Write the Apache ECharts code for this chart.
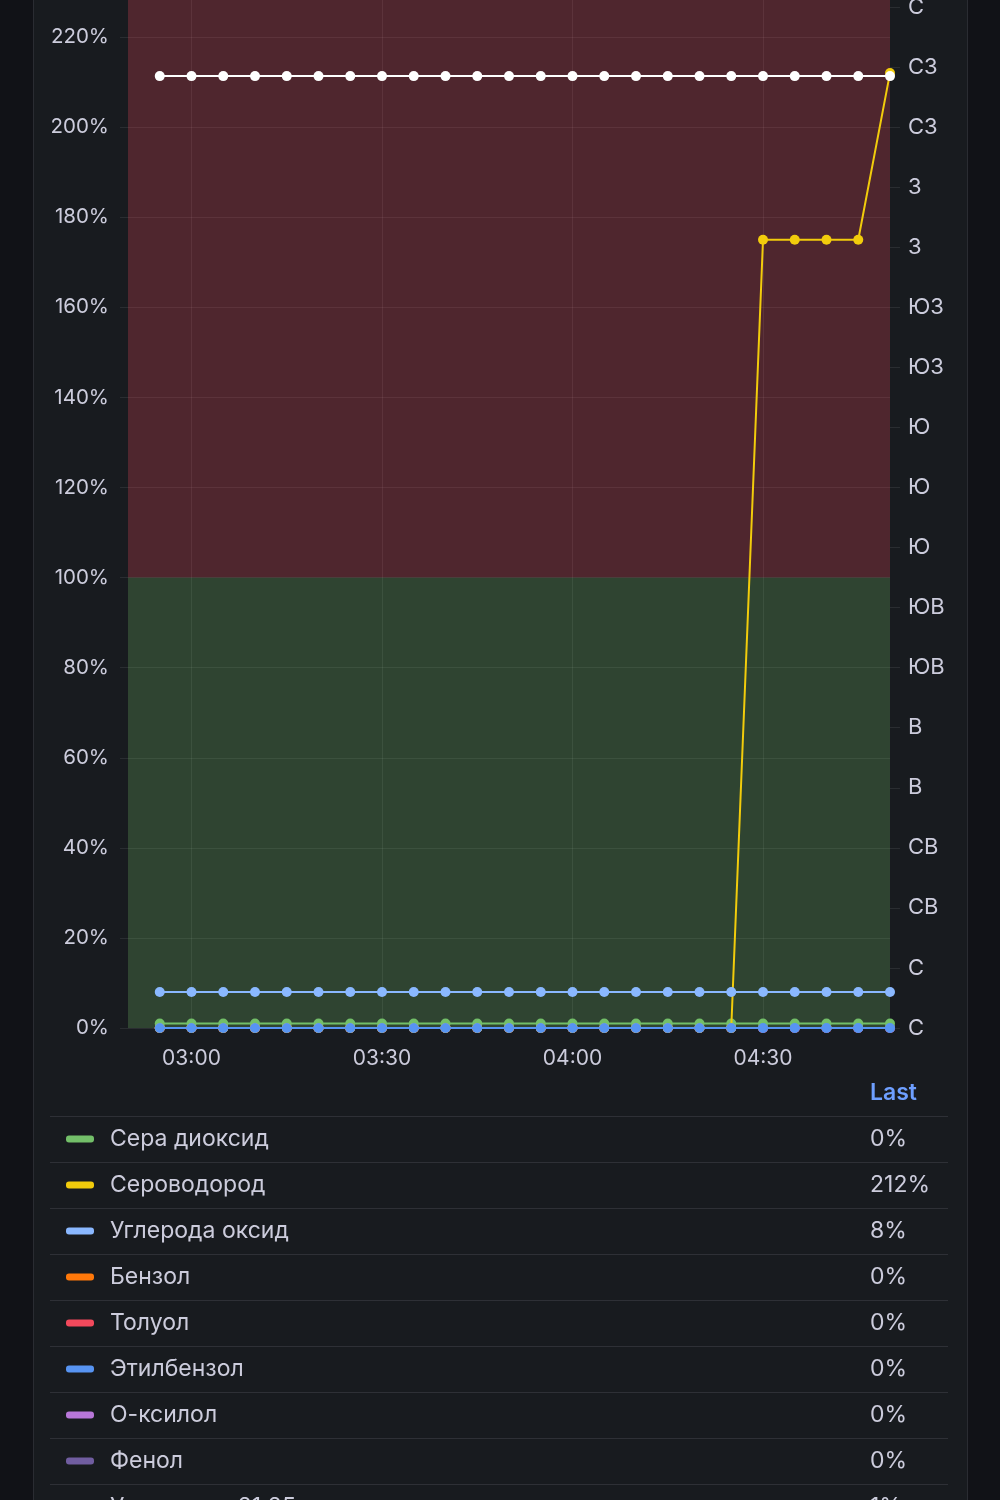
<!DOCTYPE html>
<html>
<head>
<meta charset="utf-8">
<script src="https://cdn.jsdelivr.net/npm/echarts@6/dist/echarts.min.js"></script>
<style>
  html, body { margin: 0; padding: 0; background: #111217; width: 1000px; height: 1500px; overflow: hidden; }
  #panel { position: absolute; left: 33px; top: -10px; width: 933px; height: 1520px; background: #181b1f; border-left: 1px solid #2a2c32; border-right: 1px solid #2a2c32; }
  #chart { position: absolute; left: 0; top: -53px; width: 1000px; height: 1553px; }
</style>
</head>
<body>
<div id="panel"></div>
<div id="chart"></div>
<script>
// ---- data ----
const times = ['02:55','03:00','03:05','03:10','03:15','03:20','03:25','03:30','03:35','03:40','03:45','03:50',
               '03:55','04:00','04:05','04:10','04:15','04:20','04:25','04:30','04:35','04:40','04:45','04:50'];
const seriesNames = ['Сера диоксид','Сероводород','Углерода оксид','Бензол','Толуол','Этилбензол','О-ксилол','Фенол','Угол ветра 21.25'];
const seriesColors = ['#73BF69','#F2CC0C','#8AB8FF','#FF780A','#F2495C','#5794F2','#B877D9','#705DA0','#FFFFFF'];
const sulfurDioxide = [1,1,1,1,1,1,1,1,1,1,1,1,1,1,1,1,1,1,1,1,1,1,1,1];
const hydrogenSulfide = [0,0,0,0,0,0,0,0,0,0,0,0,0,0,0,0,0,0,0,175,175,175,175,212];
const carbonMonoxide = [8,8,8,8,8,8,8,8,8,8,8,8,8,8,8,8,8,8,8,8,8,8,8,8];
const benzene = [0,0,0,0,0,0,0,0,0,0,0,0,0,0,0,0,0,0,0,0,0,0,0,0];
const toluene = [0,0,0,0,0,0,0,0,0,0,0,0,0,0,0,0,0,0,0,0,0,0,0,0];
const ethylbenzene = [0,0,0,0,0,0,0,0,0,0,0,0,0,0,0,0,0,0,0,0,0,0,0,0];
const oXylene = [0,0,0,0,0,0,0,0,0,0,0,0,0,0,0,0,0,0,0,0,0,0,0,0];
const phenol = [0,0,0,0,0,0,0,0,0,0,0,0,0,0,0,0,0,0,0,0,0,0,0,0];
const windDirection = [317,317,317,317,317,317,317,317,317,317,317,317,317,317,317,317,317,317,317,317,317,317,317,317];
const lastValues = ['0%','212%','8%','0%','0%','0%','0%','0%','1%'];
const compassLabels = ['С','СВ','В','ЮВ','Ю','ЮЗ','З','СЗ'];
const xTickLabels = ['03:00','03:30','04:00','04:30'];
const xRange = ['02:50','04:50'];
const thresholds = [100];

// ---- helpers ----
function t(hm) { const p = hm.split(':'); return (+p[0]) * 60 + (+p[1]); }   // minutes since midnight
function fmt(m) { return String(Math.floor(m / 60)).padStart(2, '0') + ':' + String(Math.round(m % 60)).padStart(2, '0'); }
function pairs(arr) { return arr.map((v, i) => [t(times[i]), v]); }
const allData = [sulfurDioxide, hydrogenSulfide, carbonMonoxide, benzene, toluene, ethylbenzene, oXylene, phenol, windDirection];
const xTicks = xTickLabels.map(t);

const FONT = 'Inter, Roboto, "Noto Sans", sans-serif';
const TXT = '#ccccdc';
const GRID = 'rgba(204,204,220,0.10)';
const OFF = 53; // chart canvas starts 53px above the page top

const zOrder = [3, 4, 5, 2, 2, 6, 2, 2, 7];

const series = allData.map((d, i) => {
  const s = {
    name: seriesNames[i],
    type: 'line',
    yAxisIndex: i === 8 ? 1 : 0,
    data: pairs(d),
    symbol: 'circle',
    symbolSize: 10,
    showSymbol: true,
    lineStyle: { width: 2, color: seriesColors[i] },
    itemStyle: { color: seriesColors[i] },
    z: zOrder[i],
    emphasis: { disabled: true },
    silent: true
  };
  if (i === 0) {
    s.markArea = {
      silent: true,
      z: 1,
      data: [
        [{ yAxis: 0, itemStyle: { color: 'rgba(115,191,105,0.25)' } }, { yAxis: thresholds[0] }],
        [{ yAxis: thresholds[0], itemStyle: { color: 'rgba(242,73,92,0.25)' } }, { yAxis: 240 }]
      ]
    };
  }
  return s;
});

// ---- legend table (graphic) ----
const graphics = [];
graphics.push({ type: 'text', x: 870, y: 1093 + OFF, style: { text: 'Last', fill: '#6E9FFF', font: '600 23px ' + FONT, verticalAlign: 'middle' } });
seriesNames.forEach((name, i) => {
  const cy = 1139 + 46 * i + OFF;
  graphics.push({ type: 'rect', shape: { x: 50, y: cy - 23, width: 898, height: 1 }, style: { fill: 'rgba(204,204,220,0.12)' } });
  graphics.push({ type: 'rect', shape: { x: 66, y: cy - 3.5, width: 28, height: 7, r: 3 }, style: { fill: seriesColors[i] } });
  graphics.push({ type: 'text', x: 110, y: cy, style: { text: name, fill: TXT, font: '23px ' + FONT, verticalAlign: 'middle' } });
  graphics.push({ type: 'text', x: 870, y: cy, style: { text: lastValues[i], fill: TXT, font: '23px ' + FONT, verticalAlign: 'middle' } });
});

const chart = echarts.init(document.getElementById('chart'), null, { renderer: 'canvas', width: 1000, height: 1553 });
chart.setOption({
  backgroundColor: 'transparent',
  animation: false,
  textStyle: { fontFamily: FONT },
  grid: { left: 128, right: 110, top: 0, bottom: 472, containLabel: false, outerBoundsMode: 'none' },
  xAxis: {
    type: 'value',
    min: t(xRange[0]),
    max: t(xRange[1]),
    axisLine: { show: false },
    axisTick: { show: false, customValues: xTicks },
    axisLabel: { color: TXT, fontSize: 21, margin: 20, fontFamily: FONT, customValues: xTicks, formatter: v => fmt(v) },
    splitLine: { show: true, lineStyle: { color: GRID, width: 1 } }
  },
  yAxis: [
    {
      type: 'value', min: 0, max: 240, interval: 20,
      axisLine: { show: false },
      axisTick: { show: true, length: 8, lineStyle: { color: GRID } },
      axisLabel: { color: TXT, fontSize: 20.5, margin: 19, fontFamily: FONT, formatter: '{value}%' },
      splitLine: { show: true, lineStyle: { color: GRID, width: 1 } }
    },
    {
      type: 'value', min: 0, max: 360, interval: 20, position: 'right',
      axisLine: { show: false },
      axisTick: { show: true, length: 10, lineStyle: { color: GRID } },
      axisLabel: { color: TXT, fontSize: 22, margin: 18, fontFamily: FONT,
        formatter: v => compassLabels[Math.round(v / 45) % 8] },
      splitLine: { show: false }
    }
  ],
  series: series,
  graphic: graphics
});
</script>
</body>
</html>
